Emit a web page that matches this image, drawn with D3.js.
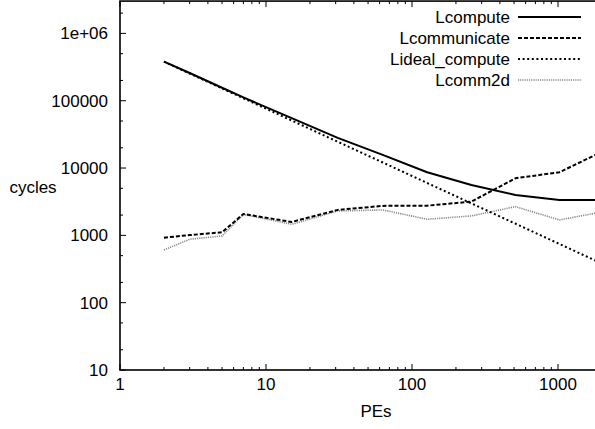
<!DOCTYPE html>
<html><head><meta charset="utf-8">
<script src="https://cdn.jsdelivr.net/npm/d3@7"></script>
<style>
html,body{margin:0;padding:0;background:#fff;}
svg{display:block;}
text{font-family:"Liberation Sans",Arial,Helvetica,sans-serif;font-size:17px;fill:#000;}
</style></head>
<body><svg id="c" width="595" height="429"></svg>
<script>
const pes = [2, 3, 5, 7, 15, 31, 63, 127, 255, 511, 1023, 2047];
const Lcompute = [381000, 258000, 156000, 112000, 55000, 28000, 15700, 8660, 5600, 3980, 3360, 3340];
const Lcommunicate = [925, 1010, 1110, 2080, 1580, 2390, 2740, 2760, 3170, 7050, 8660, 17900];
const Lideal_compute = [381000, 254000, 152400, 108900, 50800, 24580, 12100, 6000, 2988, 1491, 745, 372];
const Lcomm2d = [607, 875, 980, 2050, 1460, 2305, 2385, 1735, 1942, 2670, 1694, 2250];
const xTicks = [1, 10, 100, 1000];
const yTicks = [10, 100, 1000, 10000, 100000, 1000000];
const yTickLabels = ["10", "100", "1000", "10000", "100000", "1e+06"];
const xMax = 2047, yMax = 3.02e6;

const series = [
  {name: "Lcompute", values: Lcompute, stroke: "#000", width: 2, dash: null},
  {name: "Lcommunicate", values: Lcommunicate, stroke: "#000", width: 2, dash: "4,2"},
  {name: "Lideal_compute", values: Lideal_compute, stroke: "#000", width: 2, dash: "2,2.6"},
  {name: "Lcomm2d", values: Lcomm2d, stroke: "#8a8a8a", width: 1.6, dash: "1.2,1"}
];

const svg = d3.select("#c");
const x = d3.scaleLog().domain([1, 1000]).range([120, 558]);
const y = d3.scaleLog().domain([10, 1e6]).range([370, 33.4]);
const pLeft = x(1), pRight = x(xMax), pBottom = y(10), pTop = y(yMax);

svg.append("defs").append("clipPath").attr("id","clip")
  .append("rect").attr("x", pLeft).attr("y", pTop).attr("width", pRight-pLeft).attr("height", pBottom-pTop);

const xMinor = [];
for (let d = 1; d < 10000; d *= 10) for (let m = 2; m <= 9; m++) if (d*m <= xMax) xMinor.push(d*m);
const yMinor = [];
for (let d = 10; d < 1e7; d *= 10) for (const m of [2, 5]) if (d*m <= yMax) yMinor.push(d*m);

const g = svg.append("g");
xMinor.forEach(v => {
  g.append("line").attr("x1", x(v)).attr("x2", x(v)).attr("y1", pBottom).attr("y2", pBottom-3).attr("stroke","#000").attr("stroke-width",1);
  g.append("line").attr("x1", x(v)).attr("x2", x(v)).attr("y1", pTop).attr("y2", pTop+3).attr("stroke","#000").attr("stroke-width",1);
});
xTicks.forEach(v => {
  g.append("line").attr("x1", x(v)).attr("x2", x(v)).attr("y1", pBottom).attr("y2", pBottom-6).attr("stroke","#000").attr("stroke-width",1);
  g.append("line").attr("x1", x(v)).attr("x2", x(v)).attr("y1", pTop).attr("y2", pTop+6).attr("stroke","#000").attr("stroke-width",1);
  g.append("text").attr("x", x(v)).attr("y", pBottom+20).attr("text-anchor","middle").text(String(v));
});
yMinor.forEach(v => {
  g.append("line").attr("x1", pLeft).attr("x2", pLeft+3).attr("y1", y(v)).attr("y2", y(v)).attr("stroke","#000").attr("stroke-width",1);
});
yTicks.forEach((v,i) => {
  g.append("line").attr("x1", pLeft).attr("x2", pLeft+6).attr("y1", y(v)).attr("y2", y(v)).attr("stroke","#000").attr("stroke-width",1);
  g.append("text").attr("x", pLeft-12).attr("y", y(v)).attr("dy","0.35em").attr("text-anchor","end").text(yTickLabels[i]);
});

g.append("rect").attr("x", pLeft).attr("y", pTop).attr("width", pRight-pLeft).attr("height", pBottom-pTop)
  .attr("fill","none").attr("stroke","#000").attr("stroke-width",1.6);

const line = d3.line().x((d,i) => x(pes[i])).y(d => y(d));
const lg = svg.append("g").attr("clip-path","url(#clip)");
series.slice().reverse().forEach(s => {
  lg.append("path").datum(s.values).attr("d", line).attr("fill","none")
    .attr("stroke", s.stroke).attr("stroke-width", s.width)
    .attr("stroke-dasharray", s.dash).attr("stroke-linejoin","round");
});

series.forEach((s,i) => {
  const yy = 17 + i*21;
  svg.append("text").attr("x", 510).attr("y", yy).attr("dy","0.35em").attr("text-anchor","end").text(s.name);
  svg.append("line").attr("x1", 518).attr("x2", 581).attr("y1", yy).attr("y2", yy)
    .attr("stroke", s.stroke).attr("stroke-width", s.width).attr("stroke-dasharray", s.dash);
});

svg.append("text").attr("x", 33).attr("y", 187).attr("dy","0.35em").attr("text-anchor","middle").text("cycles");
svg.append("text").attr("x", 376).attr("y", 411).attr("dy","0.35em").attr("text-anchor","middle").text("PEs");
</script></body></html>
